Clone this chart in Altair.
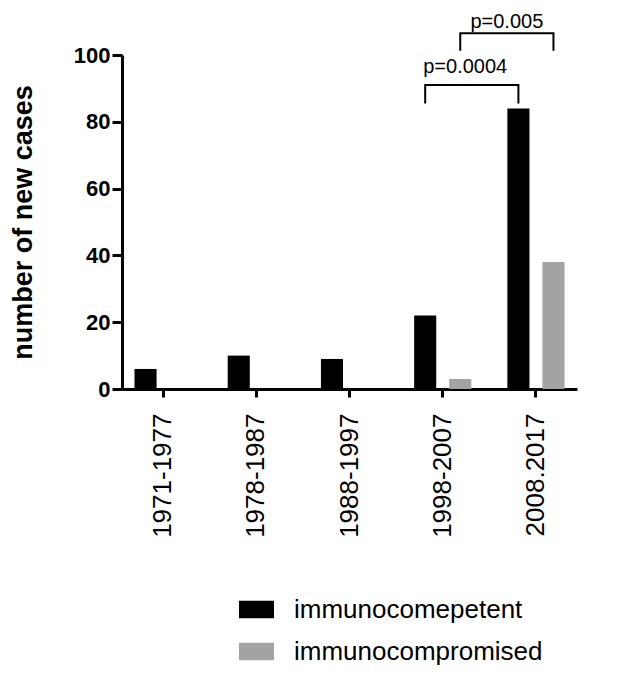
import altair as alt
import pandas as pd

periods = ["1971-1977", "1978-1987", "1988-1997", "1998-2007", "2008.2017"]
groups = ["immunocomepetent", "immunocompromised"]
competent = [6, 10, 9, 22, 84]
compromised = [0, 0, 0, 3, 38]
colors = ["#000000", "#a3a3a3"]

# significance brackets (y in data units)
p_labels = ["p=0.0004", "p=0.005"]
p_group = ["immunocomepetent", "immunocompromised"]
p_from = ["1998-2007", "1998-2007"]
p_to = ["2008.2017", "2008.2017"]
p_top = [91, 106.5]
p_leg = [85.5, 101.3]
p_text_y = [94.5, 108.2]

FONT = "Liberation Sans"

rows = []
for i, p in enumerate(periods):
    rows.append({"period": p, "group": groups[0], "value": competent[i]})
    rows.append({"period": p, "group": groups[1], "value": compromised[i]})
bars_df = pd.DataFrame(rows)

br_rows = []
txt_rows = []
for i, lab in enumerate(p_labels):
    pts = [(p_from[i], p_leg[i]), (p_from[i], p_top[i]), (p_to[i], p_top[i]), (p_to[i], p_leg[i])]
    for k, (per, yv) in enumerate(pts):
        br_rows.append({"bracket": lab, "period": per, "group": p_group[i], "y": yv, "ord": k})
    txt_rows.append({"label": lab, "period": p_from[i], "group": p_group[i], "y": p_text_y[i]})
br_df = pd.DataFrame(br_rows)
txt_df = pd.DataFrame(txt_rows)

x_enc = alt.X("period:N", sort=periods,
              scale=alt.Scale(paddingInner=0.387, paddingOuter=0.134),
              axis=alt.Axis(title=None, labelAngle=270, labelFontSize=26, labelFont=FONT,
                            labelColor="#000", labelPadding=16, tickSize=8, tickWidth=3,
                            tickColor="#000", domainWidth=3, domainColor="#000"))
xo_enc = alt.XOffset("group:N", sort=groups,
                     scale=alt.Scale(paddingInner=0.37, paddingOuter=0))
y_scale = alt.Scale(domain=[0, 100], nice=False, clamp=False)

legend_path = "M-1,-0.5H1V0.5H-1Z"

bars = alt.Chart(bars_df).mark_bar().encode(
    x=x_enc,
    xOffset=xo_enc,
    y=alt.Y("value:Q", scale=y_scale,
            axis=alt.Axis(values=[0, 20, 40, 60, 80, 100], grid=False,
                          title="number of new cases", titleFontSize=27,
                          titleFont=FONT, titleFontWeight="bold", titleColor="#000",
                          titleX=-91, titleBaseline="alphabetic",
                          labelFontSize=22, labelFontWeight="bold", labelFont=FONT,
                          labelColor="#000", labelPadding=2,
                          tickSize=10, tickWidth=3, tickColor="#000",
                          domainWidth=3, domainColor="#000")),
    color=alt.Color("group:N", sort=groups,
                    scale=alt.Scale(domain=groups, range=colors),
                    legend=alt.Legend(title=None, orient="none", legendX=117, legendY=537,
                                      symbolType=legend_path, symbolSize=1225,
                                      symbolStrokeWidth=0, symbolOpacity=1,
                                      labelFontSize=26, labelFont=FONT, labelColor="#000",
                                      labelOffset=20, labelLimit=0, rowPadding=11)),
)

brackets = alt.Chart(br_df).mark_line(color="#000", strokeWidth=2).encode(
    x=alt.X("period:N", sort=periods),
    xOffset=alt.XOffset("group:N", sort=groups),
    y=alt.Y("y:Q", scale=y_scale),
    detail="bracket:N",
    order="ord:Q",
)

text_base = alt.Chart(txt_df).encode(
    x=alt.X("period:N", sort=periods),
    xOffset=alt.XOffset("group:N", sort=groups),
    y=alt.Y("y:Q", scale=y_scale),
    text="label:N",
)
text1 = text_base.transform_filter(alt.datum.label == p_labels[0]).mark_text(
    fontSize=20, font=FONT, color="#000", baseline="alphabetic", align="center", dx=40)
text2 = text_base.transform_filter(alt.datum.label == p_labels[1]).mark_text(
    fontSize=20, font=FONT, color="#000", baseline="alphabetic", align="center", dx=46.6)

chart = alt.layer(bars, brackets, text1, text2).properties(
    width=455, height=334,
    autosize=alt.AutoSizeParams(type="none"),
    padding={"left": 114, "top": 47, "right": 49, "bottom": 277},
).configure_view(stroke=None)

chart.save("out.html", embed_options={"renderer": "svg", "actions": False})
